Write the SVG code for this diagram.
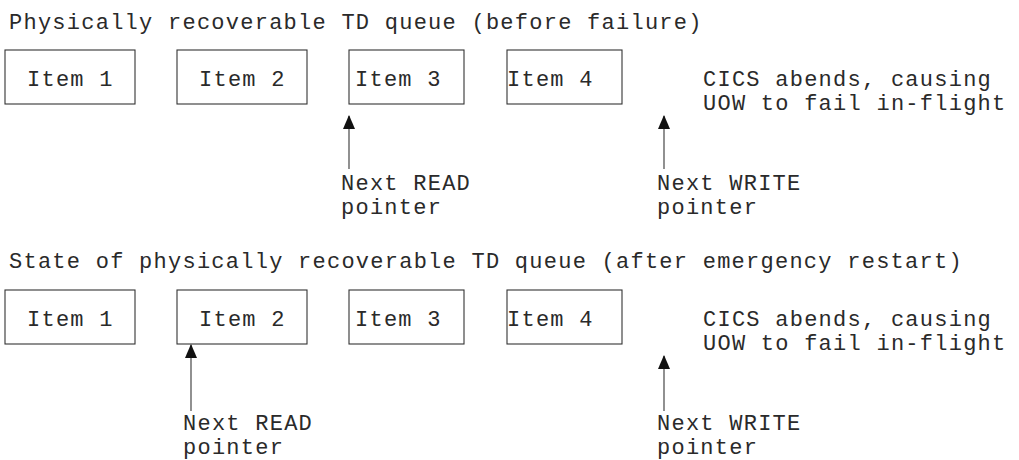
<svg xmlns="http://www.w3.org/2000/svg" width="1019" height="460" viewBox="0 0 1019 460">
<defs>
<style>
text{font-family:"Liberation Mono","DejaVu Sans Mono",monospace;font-size:22px;fill:#2a2a2a;letter-spacing:1.25px}
.box{fill:#fff;stroke:#333;stroke-width:1.1}
.ptr{stroke:#555;stroke-width:1.3;fill:none;marker-end:url(#ah)}
</style>
<marker id="ah" markerUnits="userSpaceOnUse" markerWidth="14" markerHeight="12" refX="13" refY="6" orient="auto" viewBox="0 0 14 12">
<path d="M0,0 L14,6 L0,12 Z" fill="#111"/>
</marker>
</defs>
<rect width="1019" height="460" fill="#fff"/>
<text x="9" y="29">Physically recoverable TD queue (before failure)</text>
<g id="r1i1"><rect class="box" x="5" y="50" width="130" height="54"/><text x="27" y="86">Item 1</text></g>
<g id="r1i2"><rect class="box" x="177" y="50" width="130" height="54"/><text x="199" y="86">Item 2</text></g>
<g id="r1i3"><rect class="box" x="349" y="50" width="115" height="54"/><text x="355" y="86">Item 3</text></g>
<g id="r1i4"><rect class="box" x="507" y="50" width="115" height="54"/><text x="507" y="86">Item 4</text></g>
<g id="r1note"><text x="703" y="86">CICS abends, causing</text><text x="703" y="110">UOW to fail in-flight</text></g>
<g id="r1read"><text x="341" y="190">Next READ</text><text x="341" y="214">pointer</text></g>
<g id="r1write"><text x="657" y="190">Next WRITE</text><text x="657" y="214">pointer</text></g>
<text x="9" y="268">State of physically recoverable TD queue (after emergency restart)</text>
<g id="r2i1"><rect class="box" x="5" y="290" width="130" height="54"/><text x="27" y="326">Item 1</text></g>
<g id="r2i2"><rect class="box" x="177" y="290" width="130" height="54"/><text x="199" y="326">Item 2</text></g>
<g id="r2i3"><rect class="box" x="349" y="290" width="115" height="54"/><text x="355" y="326">Item 3</text></g>
<g id="r2i4"><rect class="box" x="507" y="290" width="115" height="54"/><text x="507" y="326">Item 4</text></g>
<g id="r2note"><text x="703" y="326">CICS abends, causing</text><text x="703" y="350">UOW to fail in-flight</text></g>
<g id="r2read"><text x="183" y="430">Next READ</text><text x="183" y="454">pointer</text></g>
<g id="r2write"><text x="657" y="430">Next WRITE</text><text x="657" y="454">pointer</text></g>
<g id="connectors">
<line class="ptr" x1="349" y1="169" x2="349" y2="116"/>
<line class="ptr" x1="664" y1="169" x2="664" y2="116"/>
<line class="ptr" x1="191" y1="411" x2="191" y2="345"/>
<line class="ptr" x1="664" y1="411" x2="664" y2="356"/>
</g>
</svg>
